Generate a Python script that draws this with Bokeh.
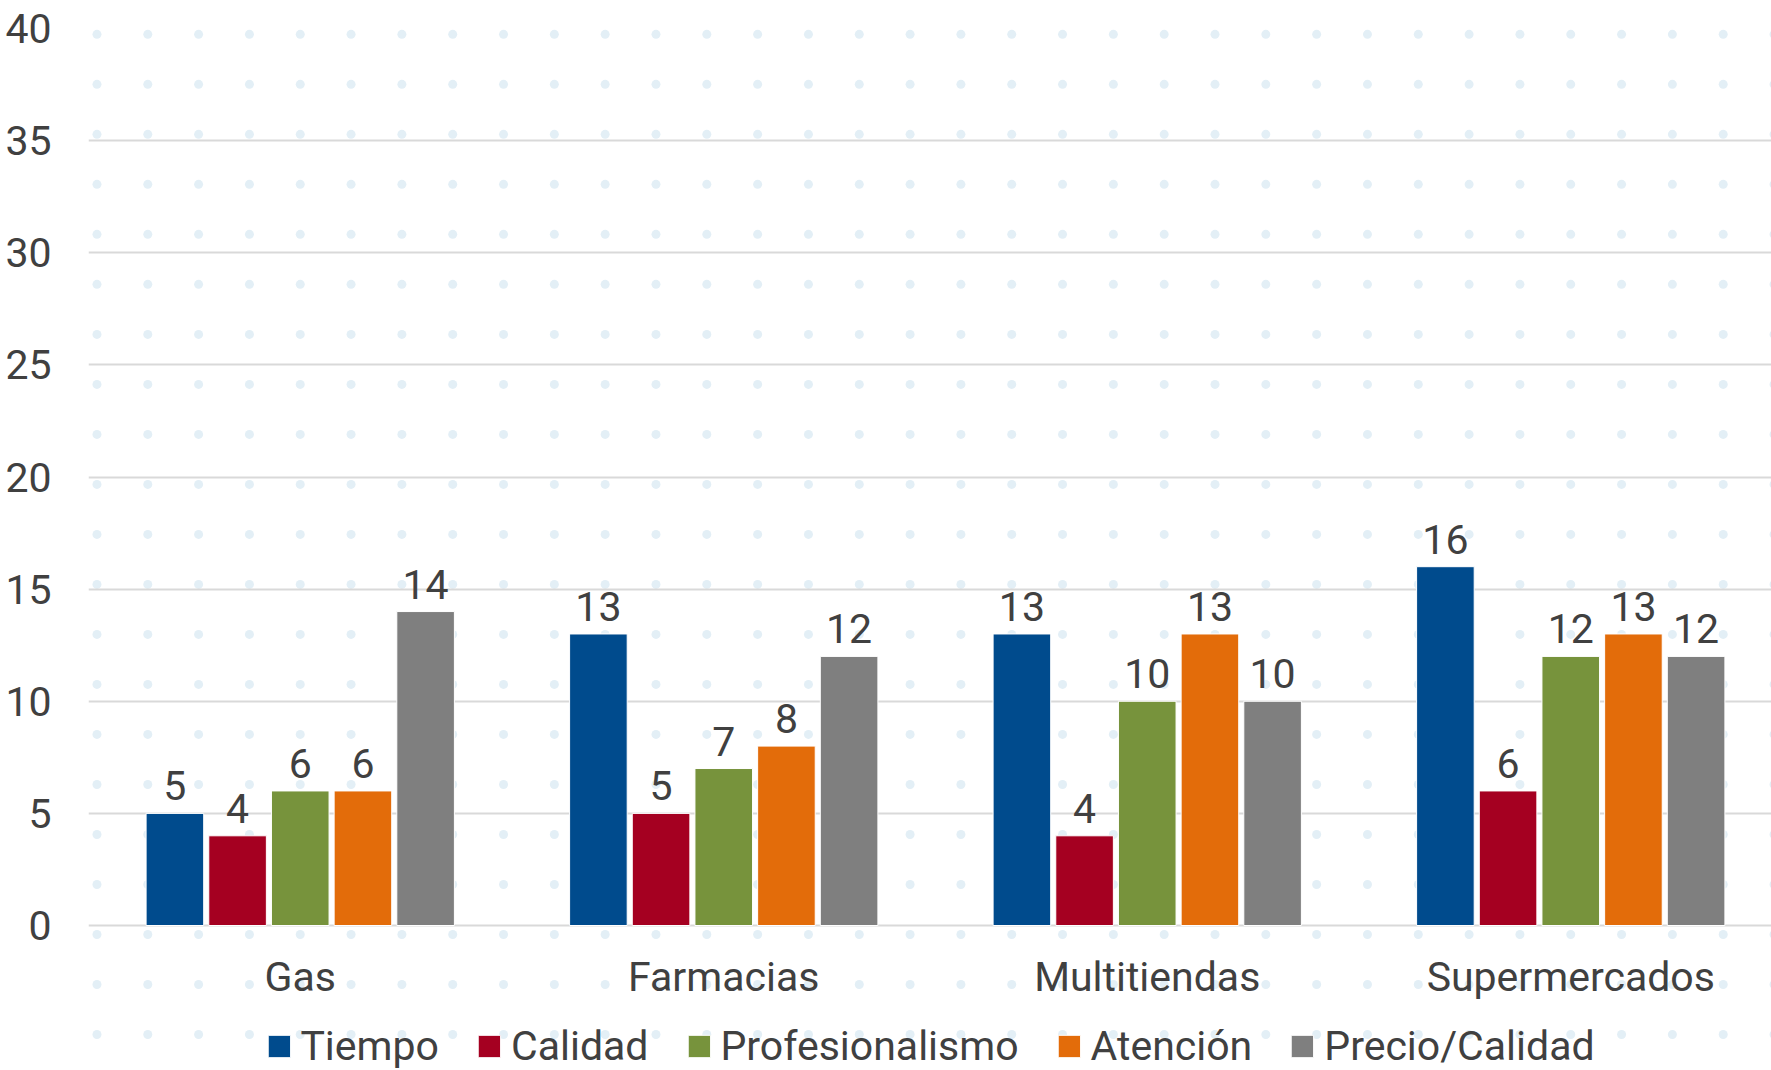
import numpy as np
from bokeh.plotting import figure
from bokeh.models import ColumnDataSource, Legend, LegendItem, FixedTicker, Range1d
from bokeh.embed import file_html
from bokeh.resources import INLINE
from bokeh.core.properties import value

categories = ["Gas", "Farmacias", "Multitiendas", "Supermercados"]
series = ["Tiempo", "Calidad", "Profesionalismo", "Atención", "Precio/Calidad"]
tiempo = [5, 13, 13, 16]
calidad = [4, 5, 4, 6]
profesionalismo = [6, 7, 10, 12]
atencion = [6, 8, 13, 13]
precio_calidad = [14, 12, 10, 12]
values = [tiempo, calidad, profesionalismo, atencion, precio_calidad]
y_ticks = [0, 5, 10, 15, 20, 25, 30, 35, 40]
colors = ["#004B8D", "#A50021", "#77933C", "#E36C0A", "#7F7F7F"]

FONT = "Roboto"
FS = "41px"
TXT = "#404040"

W, H = 1771, 1070
left, top = 88, 28
zero_px = 925                      # pixel row of value 0
frame_w = W - left
frame_h = H - top
band = 423.5
x_end = frame_w / band
px_per_unit = (zero_px - top) / 40.0
y_start = -(H - zero_px) / px_per_unit

p = figure(frame_width=frame_w, frame_height=frame_h, x_range=Range1d(0, x_end),
           y_range=Range1d(y_start, 40),
           output_backend="svg", toolbar_location=None,
           min_border_left=left, min_border_right=0, min_border_top=top, min_border_bottom=0)
p.outline_line_color = None
p.background_fill_color = "white"
p.border_fill_color = "white"

# faint decorative dot pattern
gx, gy = np.meshgrid(np.arange(-0.1, 4.2, 0.12), np.arange(-0.4 - 2.23 * 3, 42, 2.23))
p.scatter(gx.ravel(), gy.ravel(), size=9, color="#e3eff6", line_color=None, level="underlay")

centers = np.arange(len(categories)) + 0.5
step = 0.148
bw = 0.136
offsets = [-2 * step, -step, 0, step, 2 * step]
items = []
for name, vals, col, off in zip(series, values, colors, offsets):
    src = ColumnDataSource(dict(x=centers + off, y=vals, lab=[str(v) for v in vals]))
    r = p.vbar(x="x", top="y", width=bw, source=src,
               fill_color=col, line_color="white", line_width=1)
    p.text(x="x", y="y", text="lab", source=src,
           text_align="center", text_baseline="bottom", y_offset=-13,
           text_font=value(FONT), text_font_size=FS, text_color=TXT)
    items.append(LegendItem(label=name, renderers=[r]))

# category labels below the zero line
cat_src = ColumnDataSource(dict(x=centers, y=[0] * len(categories), lab=categories))
p.text(x="x", y="y", text="lab", source=cat_src, text_align="center", text_baseline="middle",
       y_offset=51, text_font=value(FONT), text_font_size=FS, text_color=TXT)

p.xaxis.visible = False
p.yaxis.ticker = FixedTicker(ticks=y_ticks)
p.ygrid.grid_line_color = "#d9d9d9"
p.ygrid.grid_line_width = 2
p.xgrid.grid_line_color = None
p.yaxis.axis_line_color = None
p.yaxis.major_tick_line_color = None
p.yaxis.minor_tick_line_color = None
p.yaxis.major_label_text_font = FONT
p.yaxis.major_label_text_font_size = FS
p.yaxis.major_label_text_color = TXT
p.yaxis.major_label_standoff = 31

legend = Legend(items=items, orientation="horizontal", location="bottom",
                label_text_font=FONT, label_text_font_size=FS, label_text_color=TXT,
                glyph_width=28, glyph_height=28, label_standoff=8, spacing=36,
                padding=0, margin=0, border_line_color=None, background_fill_alpha=0)
p.add_layout(legend, "center")

open("out.html", "w").write(file_html(p, INLINE))
